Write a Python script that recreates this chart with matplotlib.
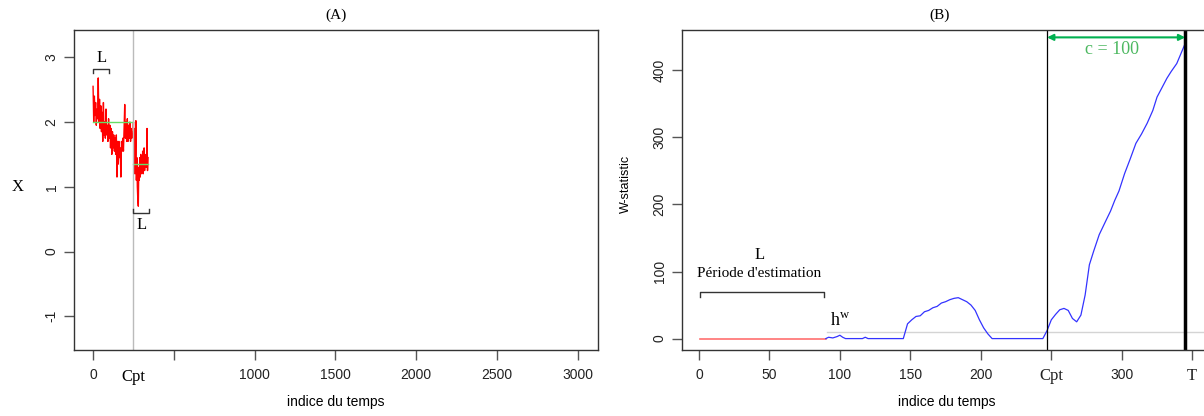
import numpy as np
import matplotlib.pyplot as plt
from matplotlib.transforms import blended_transform_factory

# ---- panel A data: simulated series with one change point ----
cpt = 250
idx_a1 = np.arange(0, 249, 4)
x_a1 = [2.55, 2.0, 2.4, 2.1, 2.3, 1.95, 2.2, 2.05, 2.68, 2.0, 2.35, 1.9, 2.25,
        1.85, 2.15, 1.7, 2.3, 1.8, 2.0, 1.75, 2.2, 1.8, 1.95, 1.7, 2.05, 1.75,
        1.95, 1.6, 1.9, 1.5, 1.85, 1.6, 1.8, 1.55, 1.75, 1.5, 1.8, 1.15, 1.7,
        1.35, 1.7, 1.45, 1.6, 1.15, 1.7, 1.55, 1.75, 1.55, 1.9, 2.27, 1.75,
        2.0, 1.7, 2.05, 1.7, 1.95, 1.75, 2.0, 1.7, 1.9, 1.75, 1.8, 1.85]
idx_a2 = np.arange(250, 341, 3)
x_a2 = [2.0, 1.3, 1.9, 1.2, 1.5, 2.02, 1.1, 1.45, 1.0, 0.8, 0.7, 1.3, 1.1,
        1.45, 1.15, 1.5, 1.2, 1.4, 1.25, 1.55, 1.2, 1.35, 1.6, 1.25, 1.4,
        1.3, 1.5, 1.3, 1.9, 1.25, 1.45]
mean_a1 = 2.0
mean_a2 = 1.35
xticks_a = [0, 500, 1000, 1500, 2000, 2500, 3000]
xticklabels_a = ["0", "", "1000", "1500", "2000", "2500", "3000"]

# ---- panel B data: W statistic ----
L = 90
T = 345
c_val = 100
h_w = 10
idx_b = [90, 92, 95, 98, 100, 102, 104, 110, 116, 118, 120, 130, 140, 145,
         148, 151, 154, 157, 160, 163, 166, 169, 172, 175, 178, 181, 184, 187,
         190, 193, 196, 199, 202, 205, 208, 220, 235, 244, 247, 250, 253, 256,
         259, 262, 265, 268, 271, 274, 277, 280, 284, 289, 292, 295, 298, 302,
         306, 310, 314, 318, 322, 325, 328, 332, 335, 339, 342, 345]
w_b = [0, 2, 1, 3, 5, 2, 0, 0, 0, 2, 0, 0, 0, 0, 22, 28, 33, 34, 40, 42, 46,
       48, 53, 55, 58, 60, 61, 58, 55, 50, 42, 28, 16, 7, 0, 0, 0, 0, 12, 28,
       36, 43, 45, 42, 30, 25, 35, 65, 110, 130, 155, 177, 190, 206, 220, 246,
       268, 291, 305, 321, 340, 360, 372, 388, 398, 410, 425, 440]
xticks_b = [0, 50, 100, 150, 200, 250, 300, 350]
xticklabels_b = ["0", "50", "100", "150", "200", "Cpt", "300", "T"]
yticks_b = [0, 100, 200, 300, 400]

SANS = "Liberation Sans"
SERIF = "Liberation Serif"
plt.rcParams["font.family"] = SANS
plt.rcParams["axes.unicode_minus"] = False
plt.rcParams["mathtext.fontset"] = "custom"
plt.rcParams["mathtext.rm"] = SERIF

fig = plt.figure(figsize=(12.04, 4.16), dpi=100)
axA = fig.add_axes([74 / 1204, 66 / 416, 524 / 1204, 320 / 416])
axB = fig.add_axes([682 / 1204, 66 / 416, 530 / 1204, 320 / 416])

for ax in (axA, axB):
    for s in ax.spines.values():
        s.set_color("#333333")
        s.set_linewidth(1)
    ax.tick_params(axis="both", direction="out", length=7, width=1,
                   color="#555555", labelsize=10, labelcolor="#222222")
    ax.tick_params(axis="x", pad=6)
    ax.tick_params(axis="y", labelrotation=90, pad=4)
    for lab in ax.get_yticklabels():
        lab.set_va("center")

# ---- panel A ----
axA.plot(idx_a1, x_a1, color="red", lw=1)
axA.plot(np.r_[idx_a1[-1], idx_a2], np.r_[x_a1[-1], x_a2], color="red", lw=1)
axA.plot([0, cpt], [mean_a1, mean_a1], color="#66dd66", lw=1)
axA.plot([cpt, idx_a2[-1]], [mean_a2, mean_a2], color="#66dd66", lw=1)
axA.axvline(cpt, color="#bbbbbb", lw=1)

# bracket L at start and after the change point
axA.plot([0, 0, 100, 100], [2.75, 2.82, 2.82, 2.75], color="#333333", lw=1)
axA.text(50, 2.86, "L", family=SERIF, fontsize=12, ha="center", va="bottom")
axA.plot([250, 250, 345, 345], [0.66, 0.59, 0.59, 0.66], color="#333333", lw=1)
axA.text(300, 0.54, "L", family=SERIF, fontsize=12, ha="center", va="top")

axA.set_xlim(-118, 3125)
axA.set_ylim(-1.52, 3.42)
axA.set_xticks(xticks_a)
axA.set_xticklabels(xticklabels_a)
axA.set_yticks([-1, 0, 1, 2, 3])
trA = blended_transform_factory(axA.transData, axA.transAxes)
axA.text(cpt, -0.085, "Cpt", transform=trA, family=SERIF, fontsize=12,
         ha="center", va="center")
axA.set_title("(A)", family=SERIF, fontsize=11, pad=8)
axA.set_xlabel("indice du temps", fontsize=10)
axA.xaxis.set_label_coords(0.5, -0.14)
axA.set_ylabel("X", family=SERIF, fontsize=12, rotation=0, ha="center", va="center")
axA.yaxis.set_label_coords(-56 / 524, 0.51)

# ---- panel B ----
axB.plot([1, L], [0, 0], color="#ff7070", lw=1.2)
axB.plot([L + 1, 364], [h_w, h_w], color="#d4d4d4", lw=1)
axB.plot(idx_b, w_b, color="#3333ff", lw=0.9)
axB.axvline(247, color="black", lw=0.9)
axB.axvline(T, color="black", lw=2.5)
axB.annotate("", xy=(247, 449), xytext=(T, 449),
             arrowprops=dict(arrowstyle="<|-|>", color="#00b050", lw=1.5,
                             mutation_scale=9, shrinkA=0, shrinkB=0))
axB.text(293, 431, "c = 100", family=SERIF, fontsize=13, color="#4cb860",
         ha="center", va="center")

axB.plot([1, 1, 89, 89], [62, 70, 70, 62], color="#333333", lw=1)
axB.text(43, 97, "Période d'estimation", family=SERIF, fontsize=11,
         ha="center", va="center")
axB.text(43, 124, "L", family=SERIF, fontsize=12, ha="center", va="center")
axB.text(100, 26, r"h$^{\mathrm{w}}$", family=SERIF, fontsize=13,
         ha="center", va="center")

axB.set_xlim(-12, 364)
axB.set_ylim(-17, 460)
axB.set_xticks(xticks_b)
axB.set_xticklabels(xticklabels_b)
for lab in axB.get_xticklabels():
    if lab.get_text() in ("Cpt", "T"):
        lab.set_family(SERIF)
        lab.set_fontsize(12)
axB.set_yticks(yticks_b)
axB.set_title("(B)", family=SERIF, fontsize=11, pad=8, x=(940 - 682) / 530)
axB.set_xlabel("indice du temps", fontsize=10)
axB.xaxis.set_label_coords(0.5, -0.14)
axB.set_ylabel("W-statistic", fontsize=9)
axB.yaxis.set_label_coords(-50 / 530, 0.52)

fig.savefig("out.png", dpi=100)
